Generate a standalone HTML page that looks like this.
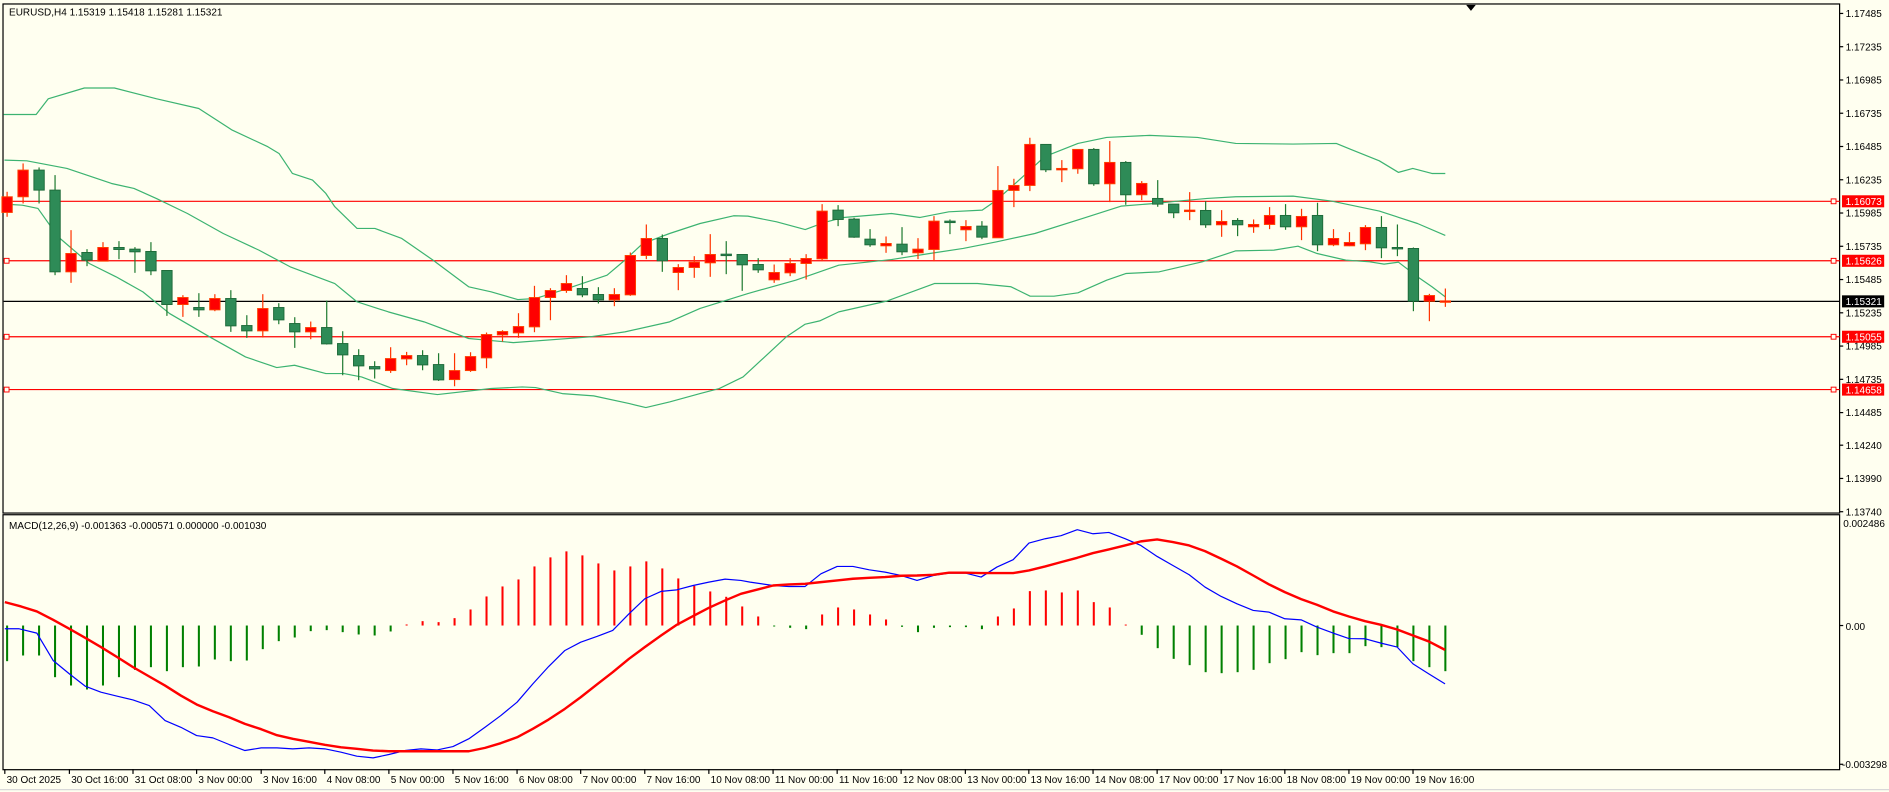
<!DOCTYPE html>
<html><head><meta charset="utf-8"><style>
html,body{margin:0;padding:0;background:#fffff0;overflow:hidden}
svg{display:block}
text{font-family:"Liberation Sans",sans-serif}
</style></head><body>
<svg id="c" width="1889" height="792" viewBox="0 0 1568 657" preserveAspectRatio="none" xmlns="http://www.w3.org/2000/svg">
<rect x="0" y="0" width="1568" height="657" fill="#fffff0"/>
</svg>
<script>
var S=document.getElementById('c'),NS='http://www.w3.org/2000/svg';
function el(t,a,txt){var e=document.createElementNS(NS,t);for(var k in a)e.setAttribute(k,a[k]);if(txt!=null)e.textContent=txt;S.appendChild(e);return e;}
function line(x1,y1,x2,y2,c,w){el('line',{x1:x1,y1:y1,x2:x2,y2:y2,stroke:c,'stroke-width':w||1});}
function poly(pts,c,w){el('polyline',{points:pts.map(function(p){return p[0].toFixed(1)+','+p[1].toFixed(1)}).join(' '),fill:'none',stroke:c,'stroke-width':w||1,'stroke-linejoin':'round'});}
function X(i){return 5.9+i*13.265;}
function zy1(v){return 107.9+v/3.614;}
// frames
el('rect',{x:2.5,y:3.3,width:1524.5,height:422.3,fill:'none',stroke:'#000','stroke-width':1});
el('rect',{x:2.5,y:427,width:1524.5,height:211.5,fill:'none',stroke:'#000','stroke-width':1});
el('polygon',{points:'1217,4 1225,4 1221,9',fill:'#000'});
// horizontal lines
function P(p){return 167-(p-1.16073)*11037;}
[[1.16073,'#ff0000'],[1.15626,'#ff0000'],[1.15055,'#ff0000'],[1.14658,'#ff0000']].forEach(function(a){var y=P(a[0]);line(3,y,1527,y,a[1],1);el('rect',{x:3.5,y:y-2,width:4,height:4,fill:'#fffff0',stroke:'#ff0000','stroke-width':0.8});el('rect',{x:1520,y:y-2,width:4,height:4,fill:'#fffff0',stroke:'#ff0000','stroke-width':0.8});});
line(3,P(1.15321),1527,P(1.15321),'#000',1);
// bands
function z1(arr){return arr.map(function(p){return [p[0]/2.699,zy1(p[1])];});}
function z2(arr){return arr.map(function(p){return [581.1+p[0]/2.5187,zy1(p[1])];});}
var bc='#3cb371';
var up=[[3,95],[30,95],[40,82],[70,73],[95,73],[130,82],[165,90],[192.7,107.9]].concat(z1([[600,50],[625,70],[655,130],[700,150],[730,190],[750,230],[800,295],[840,295],[900,325],[970,390],[1050,470],[1100,485],[1160,508],[1200,505],[1260,480],[1360,435],[1400,390],[1440,340],[1500,310]])).concat(z2([[0,280],[70,257],[100,258],[160,275],[220,298],[260,277],[300,262],[400,250],[460,262],[520,245],[590,240],[620,210],[690,120],[720,80],[790,40],[850,22],[940,16],[1040,22],[1120,40],[1240,42],[1330,40],[1360,58],[1420,92],[1460,127],[1490,115],[1530,130],[1558,130]]));
poly(up,bc,1);
var mid=z1([[10,90],[60,92],[150,115],[250,160],[300,175],[350,205],[420,250],[500,310],[580,360],[650,410],[750,460],[800,515],[870,545],[950,575],[1050,625],[1150,637],[1320,620],[1400,605],[1500,575]]).concat(z2([[0,535],[100,490],[200,450],[290,405],[400,388],[480,370],[550,355],[620,335],[700,310],[800,265],[880,228],[950,220],[1000,213],[1060,205],[1120,200],[1240,198],[1320,213],[1420,243],[1500,280],[1558,316]]));
poly(mid,bc,1);
var lo=z1([[10,222],[50,225],[85,235],[130,320],[200,400],[260,440],[320,485],[380,550],[470,620],[550,680],[620,712],[660,705],[730,730],[770,730],[810,740],[880,775],[980,793],[1100,775],[1170,770],[1200,772],[1260,790],[1330,797],[1410,820],[1447,832],[1500,815]]).concat(z2([[0,790],[40,775],[90,740],[180,620],[220,582],[250,572],[290,545],[390,513],[490,460],[580,460],[650,470],[690,498],[740,498],[790,488],[850,450],[890,430],[960,425],[1050,395],[1120,362],[1200,360],[1250,348],[1290,370],[1350,390],[1400,395],[1430,402],[1460,396],[1500,440],[1530,470],[1558,500]]));
poly(lo,bc,1);
// candles
var C=[[200,247,185,260,'R'],[120,200,100,220,'R'],[120,180,112,220,'G'],[180,425,135,435,'G'],[370,425,300,458,'R'],[367,390,357,408,'G'],[352,393,336,393,'R'],[352,358,333,387,'G'],[357,365,351,428,'G'],[364,422,336,435,'G'],[421,523,421,557,'G'],[502,523,495,560,'R'],[532,539,489,560,'G'],[505,539,492,543,'R'],[505,587,480,605,'G'],[586,602,555,623,'G'],[535,602,492,622,'R'],[532,569,519,582,'G'],[580,605,561,653,'G'],[592,605,574,627,'R'],[592,641,511,643,'G'],[640,674,603,735,'G'],[676,707,657,750,'G'],[709,716,693,745,'G'],[685,721,651,728,'R'],[676,686,665,705,'R'],[676,704,660,720,'G'],[703,749,669,752,'G'],[721,748,669,768,'R'],[679,721,666,725,'R'],[613,683,607,714,'R'],[604,614,600,634,'R'],[589,608,549,623,'R'],[502,590,467,606,'R'],[481,502,474,570,'R'],[460,481,435,488,'R'],[475,494,438,501,'G'],[493,509,471,520,'G'],[493,509,474,528,'R'],[376,494,367,497,'R'],[325,376,283,387,'R'],[325,392,313,425,'G'],[412,427,402,480,'R'],[396,412,378,443,'R'],
[373,398,312,440,'R'],[372,374,333,432,'G'],[373,404,373,482,'G'],[403,419,384,428,'G'],[427,449,403,458,'R'],[400,428,384,438,'R'],[385,400,372,448,'R'],[243,386,222,393,'R'],[240,268,225,288,'G'],[267,321,263,323,'G'],[327,344,297,350,'G'],[340,347,319,368,'R'],[342,365,291,375,'G'],[357,368,324,387,'R'],[273,358,258,393,'R'],[273,277,268,312,'G'],[289,299,270,333,'R'],[288,321,273,327,'G'],[181,323,108,323,'R'],[166,181,146,231,'R'],[43,166,23,183,'R'],[43,119,43,126,'G'],[115,119,90,156,'R'],[58,116,58,131,'R'],[58,161,54,167,'G'],[97,161,33,216,'R'],[97,194,93,224,'G'],[160,194,153,210,'R'],[205,222,150,230,'G'],[222,248,222,264,'G'],[240,244,186,270,'R'],[241,284,213,293,'G'],[274,284,240,320,'R'],[271,284,264,318,'G'],[283,290,268,308,'R'],[256,283,231,297,'R'],[256,290,222,299,'G'],[259,290,236,330,'R'],[256,344,218,363,'G'],[325,344,297,348,'R'],[337,347,306,348,'R'],[292,341,285,360,'R'],[292,353,258,384,'G'],[352,356,283,378,'G'],[355,513,352,543,'G'],[496,513,491,573,'R'],[512,514,475,530,'R']];
C.forEach(function(c,i){var x=X(i),t=zy1(c[0]),b=zy1(c[1]),h=zy1(c[2]),l=zy1(c[3]);var g=c[4]=='G';var wc=g?'#1e7a30':'#ff3300';
line(x,h,x,l,wc,1);
var bh=Math.max(b-t,1.2);
el('rect',{x:x-4.3,y:t,width:8.6,height:bh,fill:g?'#2e8b57':'#ff0000',stroke:g?'#1e6b3a':'#ff4000','stroke-width':0.8});});
// MACD histogram
var H3=[392,375,375,440,465,477,465,440,418,410,422,410,408,387,392,390,356,332,321,302,299,305,312,315,303,282,272,275,263,237,198,168,147,108,81,63,75,99,120,108,93,114,144,166,183,199,228];
var H4=[258,287,292,296,252,231,237,252,267,289,305,292,290,290,296,258,234,182,180,186,180,215,231,283,313,353,385,404,425,428,425,418,398,386,365,374,368,368,347,350,350,392,410,422];
var HH=H3.concat(H4),Z=518.9;
HH.forEach(function(v,i){var y=440+v/3.614;var x=X(i);var col=y<Z?'#ff0000':'#008000';if(Math.abs(y-Z)<0.8)y=Z+(y<Z?-0.8:0.8);line(x,Z,x,y,col,1.7);});
function m3(a){return a.map(function(p){return [p[0]/2.5187,440+p[1]/3.614];});}
function m4(a){return a.map(function(p){return [622.6+p[0]/2.5187,440+p[1]/3.614];});}
var blue=m3([[10,295],[40,295],[77,308],[111,390],[145,430],[178,467],[211,485],[245,497],[278,508],[312,525],[345,570],[378,590],[411,615],[445,622],[479,642],[512,660],[546,652],[579,652],[612,655],[646,652],[679,655],[713,665],[746,677],[780,682],[813,672],[847,660],[880,655],[914,658],[947,648],[980,625],[1014,590],[1047,555],[1081,515],[1114,460],[1147,408],[1181,360],[1214,335],[1248,318],[1281,300],[1315,250],[1348,205],[1382,183],[1415,178],[1449,165],[1482,155],[1516,146],[1549,150]]).concat(m4([[0,155],[48,165],[81,168],[115,168],[148,130],[182,108],[215,108],[249,118],[282,125],[316,135],[349,150],[383,135],[416,128],[450,128],[483,140],[516,110],[550,88],[583,38],[617,25],[650,16],[684,-2],[717,10],[750,6],[784,25],[817,45],[851,78],[884,105],[918,133],[951,170],[985,198],[1018,220],[1052,240],[1085,245],[1118,265],[1152,268],[1185,290],[1219,308],[1252,324],[1286,325],[1319,338],[1353,350],[1386,400],[1419,430],[1453,460]]));
var sig=m3([[10,215],[44,228],[77,243],[111,268],[145,295],[178,322],[211,350],[245,380],[278,410],[312,438],[345,465],[378,495],[411,522],[445,542],[479,560],[512,580],[546,596],[579,614],[612,625],[646,634],[679,643],[713,650],[746,655],[780,660],[813,662],[980,662],[1014,652],[1047,638],[1081,620],[1114,595],[1147,567],[1181,535],[1214,500],[1248,462],[1281,425],[1315,385],[1348,350],[1382,315],[1415,283],[1449,257],[1482,232],[1516,210],[1549,190]]).concat(m4([[0,183],[48,165],[81,162],[115,160],[148,155],[182,150],[215,145],[249,142],[282,140],[316,136],[349,135],[383,133],[416,127],[450,127],[483,128],[550,128],[583,120],[617,108],[650,95],[684,82],[717,68],[750,57],[784,45],[817,33],[851,27],[884,35],[918,45],[951,62],[985,85],[1018,108],[1052,135],[1085,162],[1118,185],[1152,206],[1185,223],[1219,243],[1252,258],[1286,272],[1319,283],[1353,297],[1386,315],[1419,333],[1453,358]]));
poly(blue,'#0000ff',1);
poly(sig,'#ff0000',2);
// text
el('text',{x:7.5,y:13,'font-size':8.3,fill:'#000'},'EURUSD,H4  1.15319 1.15418 1.15281 1.15321').setAttribute('xml:space','preserve');
el('text',{x:7.5,y:439,'font-size':8.3,fill:'#000'},'MACD(12,26,9) -0.001363 -0.000571 0.000000 -0.001030');
// price axis
var L=['1.17485','1.17235','1.16985','1.16735','1.16485','1.16235','1.15985','1.15735','1.15485','1.15235','1.14985','1.14735','1.14485','1.14240','1.13990','1.13740'];
L.forEach(function(s,i){var p=parseFloat(s);var y=P(p);line(1527,y,1530,y,'#000',1);el('text',{x:1532,y:y+3,'font-size':8.3,fill:'#000'},s);});
[['1.16073','#ff0000','#fff'],['1.15626','#ff0000','#fff'],['1.15055','#ff0000','#fff'],['1.14658','#ff0000','#fff'],['1.15321','#000','#fff']].forEach(function(a){var y=P(parseFloat(a[0]));el('rect',{x:1529,y:y-5,width:35,height:10,fill:a[1]});el('text',{x:1532,y:y+3.2,'font-size':8.3,fill:a[2]},a[0]);});
el('text',{x:1530,y:437,'font-size':8.3,fill:'#000'},'0.002486');
line(1527,518.9,1530,518.9,'#000',1);el('text',{x:1532,y:522.5,'font-size':8.3,fill:'#000'},'0.00');
line(1527,634,1530,634,'#000',1);
el('text',{x:1529,y:637,'font-size':8.3,fill:'#000'},'-0.003298');
// date axis
var D=[[4,'30 Oct 2025'],[57.6,'30 Oct 16:00'],[110.4,'31 Oct 08:00'],[163.2,'3 Nov 00:00'],[216.8,'3 Nov 16:00'],[269.6,'4 Nov 08:00'],[322.8,'5 Nov 00:00'],[376,'5 Nov 16:00'],[429.2,'6 Nov 08:00'],[482,'7 Nov 00:00'],[535.2,'7 Nov 16:00'],[588.4,'10 Nov 08:00'],[641.7,'11 Nov 00:00'],[694.9,'11 Nov 16:00'],[748,'12 Nov 08:00'],[801.3,'13 Nov 00:00'],[854,'13 Nov 16:00'],[907.3,'14 Nov 08:00'],[960.5,'17 Nov 00:00'],[1013.7,'17 Nov 16:00'],[1066.5,'18 Nov 08:00'],[1119.7,'19 Nov 00:00'],[1172.9,'19 Nov 16:00']];
D.forEach(function(d){line(d[0],638,d[0],642,'#000',1);el('text',{x:d[0]+1.5,y:649.5,'font-size':8.3,fill:'#000'},d[1]);});
line(0,655,1568,655,'#d8d8d8',1);
</script>
</body></html>
